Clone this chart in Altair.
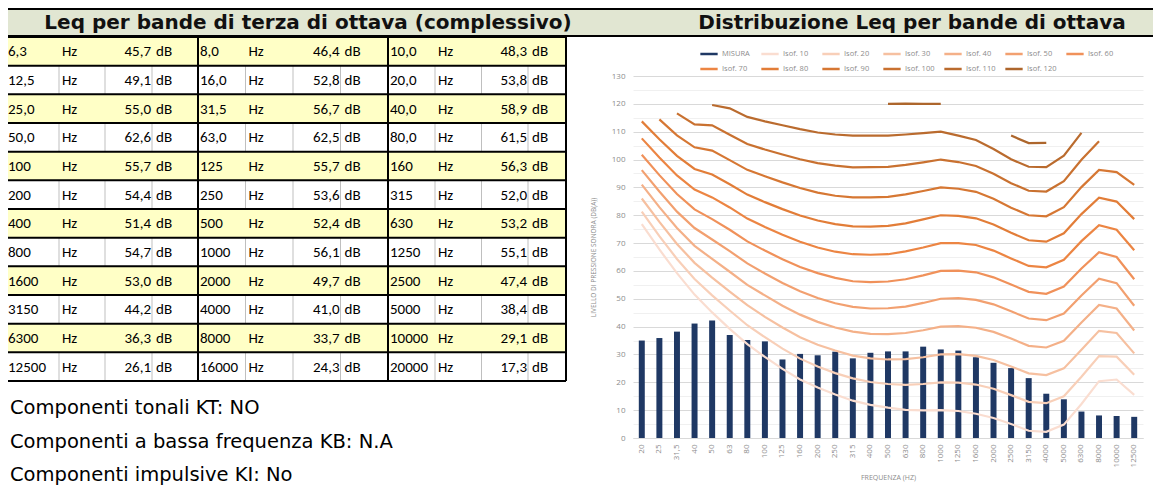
import altair as alt
import pandas as pd

# ---------------- values ----------------
tob_freq = ["6,3", "8,0", "10,0", "12,5", "16,0", "20,0", "25,0", "31,5", "40,0",
            "50,0", "63,0", "80,0", "100", "125", "160", "200", "250", "315",
            "400", "500", "630", "800", "1000", "1250", "1600", "2000", "2500",
            "3150", "4000", "5000", "6300", "8000", "10000", "12500", "16000", "20000"]
tob_leq = [45.7, 46.4, 48.3, 49.1, 52.8, 53.8, 55.0, 56.7, 58.9,
           62.6, 62.5, 61.5, 55.7, 55.7, 56.3, 54.4, 53.6, 52.0,
           51.4, 52.4, 53.2, 54.7, 56.1, 55.1, 53.0, 49.7, 47.4,
           44.2, 41.0, 38.4, 36.3, 33.7, 29.1, 26.1, 24.3, 17.3]
notes = ["Componenti tonali KT:   NO",
         "Componenti a bassa frequenza KB: N.A",
         "Componenti impulsive KI: No"]
titles = ["Leq per bande di terza di ottava (complessivo)",
          "Distribuzione Leq per bande di ottava"]

oct_bands = ["20", "25", "31,5", "40", "50", "63", "80", "100", "125", "160", "200",
             "250", "315", "400", "500", "630", "800", "1000", "1250", "1600", "2000",
             "2500", "3150", "4000", "5000", "6300", "8000", "10000", "12500"]
misura = [35.0, 35.9, 38.2, 41.1, 42.2, 37.0, 35.2, 34.7, 28.2, 30.2, 29.7, 31.0, 28.6,
          30.6, 31.1, 31.1, 32.8, 31.8, 31.4, 29.0, 27.0, 25.1, 21.5, 15.9, 13.9, 9.5,
          8.1, 7.9, 7.6]

isof_labels = ["Isof. 10", "Isof. 20", "Isof. 30", "Isof. 40", "Isof. 50", "Isof. 60",
               "Isof. 70", "Isof. 80", "Isof. 90", "Isof. 100", "Isof. 110", "Isof. 120"]
isof_10 = [76.8, 67.7, 59.2, 51.5, 45.1, 39.2, 33.7, 29.1, 24.8, 21.0, 18.1, 15.6, 13.4, 11.9,
           10.9, 10.1, 9.9, 10.0, 9.7, 8.7, 7.2, 5.0, 2.6, 2.2, 4.8, 12.2, 20.4, 21.0, 15.5]
isof_20 = [81.3, 72.5, 64.3, 57.1, 51.2, 45.8, 40.5, 36.2, 32.1, 28.5, 25.7, 23.3, 21.4, 20.1,
           19.4, 19.1, 19.4, 20.0, 19.9, 19.2, 17.7, 15.4, 13.0, 12.5, 15.0, 22.0, 29.4, 29.2, 22.7]
isof_30 = [86.0, 77.6, 69.7, 62.9, 57.6, 52.6, 47.7, 43.5, 39.7, 36.2, 33.5, 31.4, 29.6, 28.6,
           28.2, 28.3, 29.0, 30.0, 30.1, 29.5, 28.0, 25.7, 23.2, 22.6, 25.0, 31.7, 38.5, 37.7, 30.4]
isof_40 = [91.0, 82.9, 75.4, 69.0, 64.3, 59.7, 55.0, 51.2, 47.5, 44.3, 41.7, 39.7, 38.2, 37.4,
           37.3, 37.7, 38.7, 40.0, 40.2, 39.6, 38.1, 35.7, 33.1, 32.5, 34.9, 41.5, 47.8, 46.5, 38.6]
isof_50 = [96.2, 88.5, 81.3, 75.4, 71.3, 67.1, 62.7, 59.1, 55.7, 52.7, 50.3, 48.4, 47.1, 46.5,
           46.6, 47.2, 48.5, 50.0, 50.2, 49.6, 48.0, 45.5, 42.9, 42.3, 44.7, 51.2, 57.2, 55.6, 47.5]
isof_60 = [101.7, 94.4, 87.6, 82.1, 78.6, 74.8, 70.6, 67.3, 64.2, 61.4, 59.2, 57.5, 56.3, 56.0,
           56.2, 57.0, 58.4, 60.0, 60.1, 59.5, 57.7, 55.1, 52.5, 51.8, 54.4, 60.9, 66.7, 65.0, 57.0]
isof_70 = [107.6, 100.7, 94.3, 89.2, 86.4, 82.8, 78.8, 75.8, 73.0, 70.5, 68.4, 66.9, 66.0, 65.8,
           66.0, 67.0, 68.4, 70.0, 70.0, 69.3, 67.3, 64.5, 61.8, 61.3, 64.0, 70.7, 76.4, 74.8, 67.4]
isof_80 = [113.7, 107.3, 101.3, 96.6, 94.6, 91.1, 87.4, 84.7, 82.2, 79.9, 78.1, 76.8, 76.0, 75.9,
           76.2, 77.1, 78.5, 80.0, 79.8, 78.9, 76.7, 73.7, 71.0, 70.5, 73.5, 80.4, 86.3, 84.9, 78.6]
isof_90 = [None, 114.4, 108.7, 104.4, 103.2, 99.8, 96.3, 94.0, 91.8, 89.8, 88.1, 87.0, 86.4, 86.4,
           86.6, 87.5, 88.7, 90.0, 89.5, 88.4, 85.9, 82.7, 80.0, 79.6, 82.9, 90.1, 96.3, 95.5, 90.9]
isof_100 = [None, None, 116.6, 112.6, 112.3, 108.9, 105.6, 103.6, 101.8, 100.1, 98.7, 97.8, 97.2,
            97.3, 97.4, 98.1, 99.0, 100.0, 99.1, 97.7, 94.9, 91.5, 88.8, 88.5, 92.2, 99.9, 106.6,
            None, None]
isof_110 = [None, None, None, None, 119.6, 118.4, 115.3, 113.7, 112.3, 110.9, 109.7, 109.0, 108.6,
            108.6, 108.6, 109.0, 109.5, 110.0, 108.6, 107.0, 103.8, 100.1, 97.4, 97.3, 101.4,
            109.6, None, None, None]
isof_120 = [None, None, None, None, None, None, None, None, None, None, None, None, None, None,
            120.0, 120.1, 120.0, 120.0, None, None, None, 108.6, 105.9, 106.0, None, None, None,
            None, None]
isof_values = [isof_10, isof_20, isof_30, isof_40, isof_50, isof_60,
               isof_70, isof_80, isof_90, isof_100, isof_110, isof_120]

# ---------------- styles ----------------
bar_color = "#1F3864"
isof_colors = ["#FADDD0", "#F8CFB8", "#F6C0A0", "#F4B088", "#F2A070", "#F0915A",
               "#EC8543", "#E27D38", "#D67733", "#C97130", "#BA6B2E", "#AD662C"]
yellow = "#FFFFC6"
hdr_fill = "#E1E6D2"
gray_txt = "#8C8C8C"
cell_font = "Carlito, 'Liberation Sans Narrow', Lato, sans-serif"
note_font = "'DejaVu Sans', sans-serif"
hdr_font = "'DejaVu Sans', sans-serif"
chart_font = "'Open Sans', sans-serif"

# geometry of the page (view = plot area of the chart)
VX, VY, W, H = 633, 76, 510, 362
# column edges of the sheet (page pixels) and row band of the table
col_edges = [6, 59, 105, 152, 198, 245.5, 293, 340.5, 388, 435, 481.5, 528, 566]
row_top, row_bottom = 37, 381

# ---------------- table frames ----------------
cells = []
for i, (f, v) in enumerate(zip(tob_freq, tob_leq)):
    r, g = divmod(i, 3)
    c = g * 4
    cells.append(dict(row=r + 0.5, col=c, txt=f, kind="freq"))
    cells.append(dict(row=r + 0.5, col=c + 1, txt="Hz", kind="hz"))
    cells.append(dict(row=r + 0.5, col=c + 3, txt=f"{v:.1f}".replace(".", ","), kind="val"))
    cells.append(dict(row=r + 0.5, col=c + 3, txt="dB", kind="db"))
cells = pd.DataFrame(cells)

n_rows = len(tob_freq) // 3
rows_df = pd.DataFrame({"r0": list(range(n_rows)), "r1": [r + 1 for r in range(n_rows)],
                        "c0": [0] * n_rows, "c1": [12] * n_rows,
                        "odd": [r % 2 == 0 for r in range(n_rows)]})
hlines = pd.DataFrame({"r": list(range(n_rows + 1)), "c0": [0] * (n_rows + 1),
                       "c1": [12] * (n_rows + 1)})
glines = pd.DataFrame({"c": [0, 4, 8, 12], "r0": [0] * 4, "r1": [n_rows] * 4})
thin = [dict(c=c, r0=r, r1=r + 1) for r in range(n_rows) if r % 2 == 1
        for c in range(12) if c % 4 != 0]
thin = pd.DataFrame(thin)

xt = alt.Scale(domain=list(range(13)), range=[e - VX for e in col_edges], nice=False, zero=False)
yt = alt.Scale(domain=[0, n_rows], range=[row_top - VY, row_bottom - VY], nice=False, zero=False)

row_bg = alt.Chart(rows_df).transform_filter("datum.odd").mark_rect(color=yellow).encode(
    x=alt.X("c0:Q", scale=xt, axis=None), x2="c1:Q",
    y=alt.Y("r0:Q", scale=yt, axis=None), y2="r1:Q")
thin_l = alt.Chart(thin).mark_rule(color="#BFBFBF", strokeWidth=1).encode(
    x=alt.X("c:Q", scale=xt, axis=None),
    y=alt.Y("r0:Q", scale=yt, axis=None), y2="r1:Q")
h_l = alt.Chart(hlines).mark_rule(color="black", strokeWidth=2).encode(
    x=alt.X("c0:Q", scale=xt, axis=None), x2="c1:Q",
    y=alt.Y("r:Q", scale=yt, axis=None))
g_l = alt.Chart(glines).mark_rule(color="black", strokeWidth=2).encode(
    x=alt.X("c:Q", scale=xt, axis=None),
    y=alt.Y("r0:Q", scale=yt, axis=None), y2="r1:Q")


def cell_text(kind, align, dx):
    return alt.Chart(cells).transform_filter(f"datum.kind == '{kind}'").mark_text(
        align=align, baseline="middle", dx=dx, font=cell_font, fontSize=15, color="black"
    ).encode(x=alt.X("col:Q", scale=xt, axis=None),
             y=alt.Y("row:Q", scale=yt, axis=None), text="txt:N")


t_freq = cell_text("freq", "left", 2)
t_hz = cell_text("hz", "left", 3)
t_val = cell_text("val", "right", -1)
t_db = cell_text("db", "left", 4)

# ---------------- header & notes ----------------
hdr_df = pd.DataFrame({"t": titles, "k": [0, 1]})
hdr_bg = alt.Chart(hdr_df.head(1)).mark_rect(fill=hdr_fill, stroke="black", strokeWidth=2).encode(
    x=alt.value(4 - VX), x2=alt.value(1157 - VX), y=alt.value(9 - VY), y2=alt.value(36 - VY))
hdr_txt = alt.Chart(hdr_df).mark_text(
    font=hdr_font, fontWeight="bold", fontSize=20, baseline="middle",
    color="#111111").encode(
    x=alt.X("k:Q", scale=alt.Scale(domain=[0, 1], range=[308 - VX, 912 - VX], nice=False,
                                  zero=False), axis=None),
    y=alt.value(23 - VY), text="t:N")

notes_df = pd.DataFrame({"t": notes, "k": [0, 1, 2]})
notes_txt = alt.Chart(notes_df).mark_text(
    font=note_font, fontSize=19.5, align="left", baseline="middle", color="black").encode(
    x=alt.value(10 - VX),
    y=alt.Y("k:Q", scale=alt.Scale(domain=[0, 2], range=[408 - VY, 475 - VY], nice=False,
                                  zero=False), axis=None),
    text="t:N")

# ---------------- chart ----------------
bars_df = pd.DataFrame({"band": oct_bands, "misura": misura})

line_rows = []
for name, vals in zip(isof_labels, isof_values):
    seg, started, gap = 0, False, False
    for i, (b, v) in enumerate(zip(oct_bands, vals)):
        if v is None:
            gap = started
            continue
        if gap:
            seg += 1
            gap = False
        started = True
        line_rows.append(dict(serie=name, band=b, idx=i, val=v, seg=f"{name}-{seg}"))
lines_df = pd.DataFrame(line_rows)

xband = alt.Scale(domain=oct_bands, paddingInner=0.66, paddingOuter=0.33)
ysc = alt.Scale(domain=[0, 130], nice=False, zero=True)

bars = alt.Chart(bars_df).mark_bar(color=bar_color).encode(
    x=alt.X("band:N", sort=oct_bands, scale=xband,
            axis=alt.Axis(title="FREQUENZA (HZ)", labelAngle=270, labelFontSize=8,
                          labelColor=gray_txt, labelFont=chart_font, ticks=False,
                          domainColor="#D9D9D9", labelPadding=6, titleFontSize=7,
                          titleColor=gray_txt, titleFont=chart_font, titleFontWeight="normal",
                          titlePadding=7)),
    y=alt.Y("misura:Q", scale=ysc,
            axis=alt.Axis(values=list(range(0, 131, 5)), grid=True,
                          gridColor={"condition": {"test": "datum.value % 10 === 0",
                                                   "value": "#D9D9D9"}, "value": "#F0F0F0"},
                          labelExpr="datum.value % 10 === 0 ? datum.label : ''",
                          domain=False, ticks=False, labelFontSize=8, labelColor=gray_txt,
                          labelFont=chart_font, labelPadding=8,
                          title="LIVELLO DI PRESSIONE SONORA (DB(A))", titleFontSize=6.5,
                          titleColor=gray_txt, titleFont=chart_font, titleFontWeight="normal",
                          titlePadding=15)))

lines = alt.Chart(lines_df).mark_line(strokeWidth=2.2).encode(
    x=alt.X("band:N", sort=oct_bands, scale=xband, bandPosition=0.5, axis=None),
    y=alt.Y("val:Q", scale=ysc, axis=None),
    color=alt.Color("serie:N",
                    scale=alt.Scale(domain=["MISURA"] + isof_labels,
                                    range=[bar_color] + isof_colors),
                    legend=alt.Legend(orient="none", legendX=66, legendY=-32, columns=7,
                                      direction="horizontal", symbolType="stroke",
                                      symbolSize=300, symbolStrokeWidth=2.5,
                                      labelFontSize=7.5, labelColor=gray_txt,
                                      labelFont=chart_font, gridAlign="all",
                                      columnPadding=4, rowPadding=0, labelOffset=3,
                                      title=None)),
    detail="seg:N",
    order="idx:Q")

chart = alt.layer(
    hdr_bg, hdr_txt, row_bg, thin_l, h_l, g_l, t_freq, t_hz, t_val, t_db, notes_txt,
    bars, lines
).resolve_scale(x="independent", y="independent").properties(
    width=W, height=H,
    padding={"left": VX - 8, "top": VY - 8, "right": 1153 - (VX + W), "bottom": 485 - (VY + H)},
    autosize=alt.AutoSizeParams(type="none")
).configure_view(stroke=None)

chart.save("out.html", embed_options={"renderer": "svg", "actions": False})
